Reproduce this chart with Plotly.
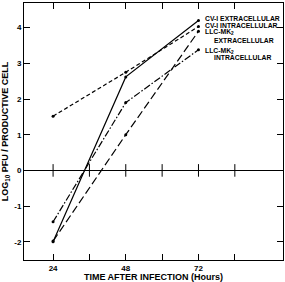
import plotly.graph_objects as go

hours = [24, 48, 72]
cv1_extra = [-2.0, 2.62, 4.2]
cv1_intra = [1.52, 2.75, 4.03]
llc_extra = [-1.98, 1.0, 3.9]
llc_intra = [-1.44, 1.9, 3.38]

x_major = [24, 48, 72]
x_minor = [36, 60, 84]
y_tickvals = [-2, -1, 0, 1, 2, 3, 4]
y_ticktext = ["-2", "-1", "0", "1", "2", "3", "4"]

label_text = ["CV-I EXTRACELLULAR", "CV-I INTRACELLULAR", "LLC-MK<sub>2</sub>",
              "EXTRACELLULAR", "LLC-MK<sub>2</sub>", "INTRACELLULAR"]
label_x = [73.4, 73.4, 73.4, 76.4, 73.4, 76.4]
label_y = [4.26, 4.06, 3.87, 3.63, 3.35, 3.16]

FONT = "Liberation Sans"
fig = go.Figure()

# tick marks crossing the zero line
zero_ticks = x_major + x_minor
fig.add_trace(go.Scatter(
    x=zero_ticks, y=[0] * len(zero_ticks), mode="markers",
    marker=dict(symbol="line-ns", size=9, line=dict(color="black", width=1)),
    showlegend=False, hoverinfo="skip",
))

styles = [
    (cv1_extra, "solid"),
    (cv1_intra, "4px,2.5px"),
    (llc_extra, "8px,3.5px"),
    (llc_intra, "7px,2px,1.5px,2px"),
]
for ys, dash in styles:
    fig.add_trace(go.Scatter(
        x=hours, y=ys, mode="lines+markers",
        line=dict(color="black", width=1.2, dash=dash),
        marker=dict(color="black", size=3),
        showlegend=False, cliponaxis=False,
    ))

for txt, x, y in zip(label_text, label_x, label_y):
    fig.add_annotation(x=x, y=y, xref="x", yref="y", text=txt, showarrow=False,
                       xanchor="left", yanchor="middle",
                       font=dict(family=FONT, size=6.8, color="black", weight="bold"))

fig.update_layout(
    width=285, height=282,
    margin=dict(l=24, r=1, t=3, b=20),
    paper_bgcolor="white", plot_bgcolor="white",
    font=dict(family=FONT, size=8, color="black"),
)
fig.update_xaxes(
    range=[14.4, 99.9], tickvals=x_major, ticktext=[str(v) for v in x_major],
    ticks="inside", ticklen=6, tickcolor="black", tickwidth=1,
    minor=dict(tickvals=x_minor, ticks="inside", ticklen=6, tickcolor="black", tickwidth=1,
               showgrid=False),
    showline=True, linecolor="black", linewidth=1, mirror="ticks",
    showgrid=False, zeroline=False,
    tickfont=dict(family=FONT, size=8, weight="bold"),
    title=dict(text="TIME AFTER INFECTION (Hours)", standoff=2,
               font=dict(family=FONT, size=9, weight="bold")),
)
fig.update_yaxes(
    range=[-2.51, 4.69], tickvals=y_tickvals, ticktext=y_ticktext,
    ticks="inside", ticklen=6, tickcolor="black", tickwidth=1,
    showline=True, linecolor="black", linewidth=1, mirror="ticks",
    showgrid=False, zeroline=True, zerolinecolor="black", zerolinewidth=1,
    tickfont=dict(family=FONT, size=8, weight="bold"),
    title=dict(text="LOG<sub>10</sub> PFU / PRODUCTIVE CELL", standoff=4,
               font=dict(family=FONT, size=9, weight="bold")),
)

fig.write_html("out.html")
